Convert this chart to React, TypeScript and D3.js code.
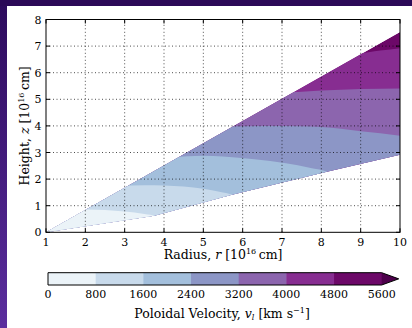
import React from "react";
import * as d3 from "d3";

// contour levels of poloidal velocity (km/s) and their fill colours (BuPu)
const levels = [0, 800, 1600, 2400, 3200, 4000, 4800, 5600];
const bandColors = ["#ebf3f8", "#c8daeb", "#a3bfdc", "#8c96c6", "#8c65ae", "#872d91", "#6c0868"];
const overColor = "#4d004b";

// wind region edges, [r, z] in 1e16 cm
const upperEdge: [number, number][] = [[1, 0], [10, 7.53]];
const lowerEdge: [number, number][] = [[1, 0], [3.75, 0.62], [5.7, 1.4], [8.14, 2.28], [10, 2.92]];

// contour lines, [r, z]
const contour800: [number, number][] = [[2.0, 0.86], [2.5, 0.84], [3.0, 0.78], [3.5, 0.69], [3.8, 0.6]];
const contour1600: [number, number][] = [[2.9, 1.75], [3.5, 1.77], [4.0, 1.76], [4.5, 1.72], [5.0, 1.64], [5.5, 1.5], [5.8, 1.38]];
const contour2400: [number, number][] = [[4.2, 2.84], [5.0, 2.88], [5.5, 2.85], [6.3, 2.75], [7.1, 2.6], [7.7, 2.43], [8.2, 2.24]];
const contour3200: [number, number][] = [[5.6, 3.98], [6.5, 4.0], [7.5, 3.99], [8.0, 3.96], [8.5, 3.89], [9.0, 3.8], [9.5, 3.72], [10, 3.63]];
const contour4000: [number, number][] = [[7.2, 5.27], [8, 5.33], [9, 5.39], [10, 5.41]];
const contour4800: [number, number][] = [[8.9, 6.72], [9.5, 6.83], [10, 6.92]];
const contours = [contour800, contour1600, contour2400, contour3200, contour4000, contour4800];

const xTicks = [1, 2, 3, 4, 5, 6, 7, 8, 9, 10];
const yTicks = [0, 1, 2, 3, 4, 5, 6, 7, 8];

const W = 412;
const H = 328;
const serif = "'DejaVu Serif', serif";

export default function App() {
  const x = d3.scaleLinear().domain([1, 10]).range([46, 400]);
  const y = d3.scaleLinear().domain([0, 8]).range([232.3, 19.5]);
  const cb = d3.scaleLinear().domain([0, 5600]).range([48, 381.7]);
  const cbTop = 272.7;
  const cbBot = 285;

  const line = d3.line<[number, number]>().x(d => x(d[0])).y(d => y(d[1]));
  const wedge = line([...upperEdge, ...lowerEdge.slice().reverse()]) + "Z";

  // area below each contour, extended so that it covers / misses the wedge outside the drawn part
  const below = d3.area<[number, number]>()
    .x(d => x(d[0]))
    .y0(y(-1))
    .y1(d => y(d[1]))
    .curve(d3.curveMonotoneX);
  const extend = (c: [number, number][]) => {
    const pts: [number, number][] = [[1, c[0][1]], ...c];
    const last = c[c.length - 1];
    if (last[0] < 10) pts.push([last[0] + 0.05, -1], [10, -1]);
    return pts;
  };

  const cbOutline = `M${cb(0)},${cbTop}H${cb(5600)}L${cb(5600) + 17},${(cbTop + cbBot) / 2}L${cb(5600)},${cbBot}H${cb(0)}Z`;

  return (
    <svg width={W} height={H} style={{ position: "absolute", left: 0, top: 0 }} fontFamily={serif}>
      <defs>
        <linearGradient id="side" x1="0" y1="0" x2="0" y2="1">
          <stop offset="0" stopColor="#2c0a5c" />
          <stop offset="1" stopColor="#5b2e9e" />
        </linearGradient>
        <clipPath id="wedgeClip">
          <path d={wedge} />
        </clipPath>
      </defs>
      <rect x={0} y={0} width={W} height={H} fill="url(#side)" />
      <rect x={0} y={0} width={W} height={6} fill="#2b0957" />
      <rect x={7} y={6} width={W - 7} height={H - 6} fill="#fff" />

      {/* filled contours */}
      <g clipPath="url(#wedgeClip)">
        <path d={wedge} fill={bandColors[6]} />
        {contours.slice().reverse().map((c, i) => {
          const k = contours.length - 1 - i;
          return <path key={k} d={below(extend(c)) || ""} fill={bandColors[k]} />;
        })}
      </g>

      {/* grid */}
      <g stroke="#000" strokeWidth={0.7} strokeDasharray="1,2.5">
        {xTicks.slice(1, -1).map(t => (
          <line key={"gx" + t} x1={x(t)} x2={x(t)} y1={y(0)} y2={y(8)} />
        ))}
        {yTicks.slice(1, -1).map(t => (
          <line key={"gy" + t} x1={x(1)} x2={x(10)} y1={y(t)} y2={y(t)} />
        ))}
      </g>

      {/* ticks */}
      <g stroke="#000" strokeWidth={1}>
        {xTicks.map(t => (
          <g key={"tx" + t}>
            <line x1={x(t)} x2={x(t)} y1={y(0)} y2={y(0) - 4} />
            <line x1={x(t)} x2={x(t)} y1={y(8)} y2={y(8) + 4} />
          </g>
        ))}
        {yTicks.map(t => (
          <g key={"ty" + t}>
            <line x1={x(1)} x2={x(1) + 4} y1={y(t)} y2={y(t)} />
            <line x1={x(10)} x2={x(10) - 4} y1={y(t)} y2={y(t)} />
          </g>
        ))}
      </g>
      <rect x={x(1)} y={y(8)} width={x(10) - x(1)} height={y(0) - y(8)} fill="none" stroke="#000" strokeWidth={1} />

      {/* tick labels */}
      <g fontSize={11} fill="#000">
        {xTicks.map(t => (
          <text key={"lx" + t} x={x(t)} y={245.5} textAnchor="middle">{t}</text>
        ))}
        {yTicks.map(t => (
          <text key={"ly" + t} x={41.5} y={y(t) + 4} textAnchor="end">{t}</text>
        ))}
      </g>

      {/* axis labels */}
      <text x={(x(1) + x(10)) / 2} y={259} textAnchor="middle" fontSize={12.5}>
        Radius, <tspan fontStyle="italic">r</tspan> [10<tspan dy={-5} fontSize={8}>16</tspan><tspan dy={5}>{"\u2009"}cm]</tspan>
      </text>
      <text transform={`translate(29,${(y(0) + y(8)) / 2}) rotate(-90)`} textAnchor="middle" fontSize={12.5}>
        Height, <tspan fontStyle="italic">z</tspan> [10<tspan dy={-5} fontSize={8}>16</tspan><tspan dy={5}>{"\u2009"}cm]</tspan>
      </text>

      {/* colorbar */}
      {levels.slice(0, -1).map((l, i) => (
        <rect key={"cb" + l} x={cb(l)} y={cbTop} width={cb(levels[i + 1]) - cb(l) + 0.5} height={cbBot - cbTop} fill={bandColors[i]} />
      ))}
      <path d={`M${cb(5600)},${cbTop}L${cb(5600) + 17},${(cbTop + cbBot) / 2}L${cb(5600)},${cbBot}Z`} fill={overColor} />
      <path d={cbOutline} fill="none" stroke="#000" strokeWidth={1} />
      <g fontSize={11} fill="#000">
        {levels.map(l => (
          <text key={"cl" + l} x={cb(l)} y={297.5} textAnchor="middle">{l}</text>
        ))}
      </g>
      <text x={222} y={318} textAnchor="middle" fontSize={12.5}>
        Poloidal Velocity, <tspan fontStyle="italic">v</tspan><tspan fontStyle="italic" dy={2} fontSize={8}>l</tspan><tspan dy={-2}> [km s</tspan><tspan dy={-5} fontSize={8}>{"\u22121"}</tspan><tspan dy={5}>]</tspan>
      </text>
    </svg>
  );
}
